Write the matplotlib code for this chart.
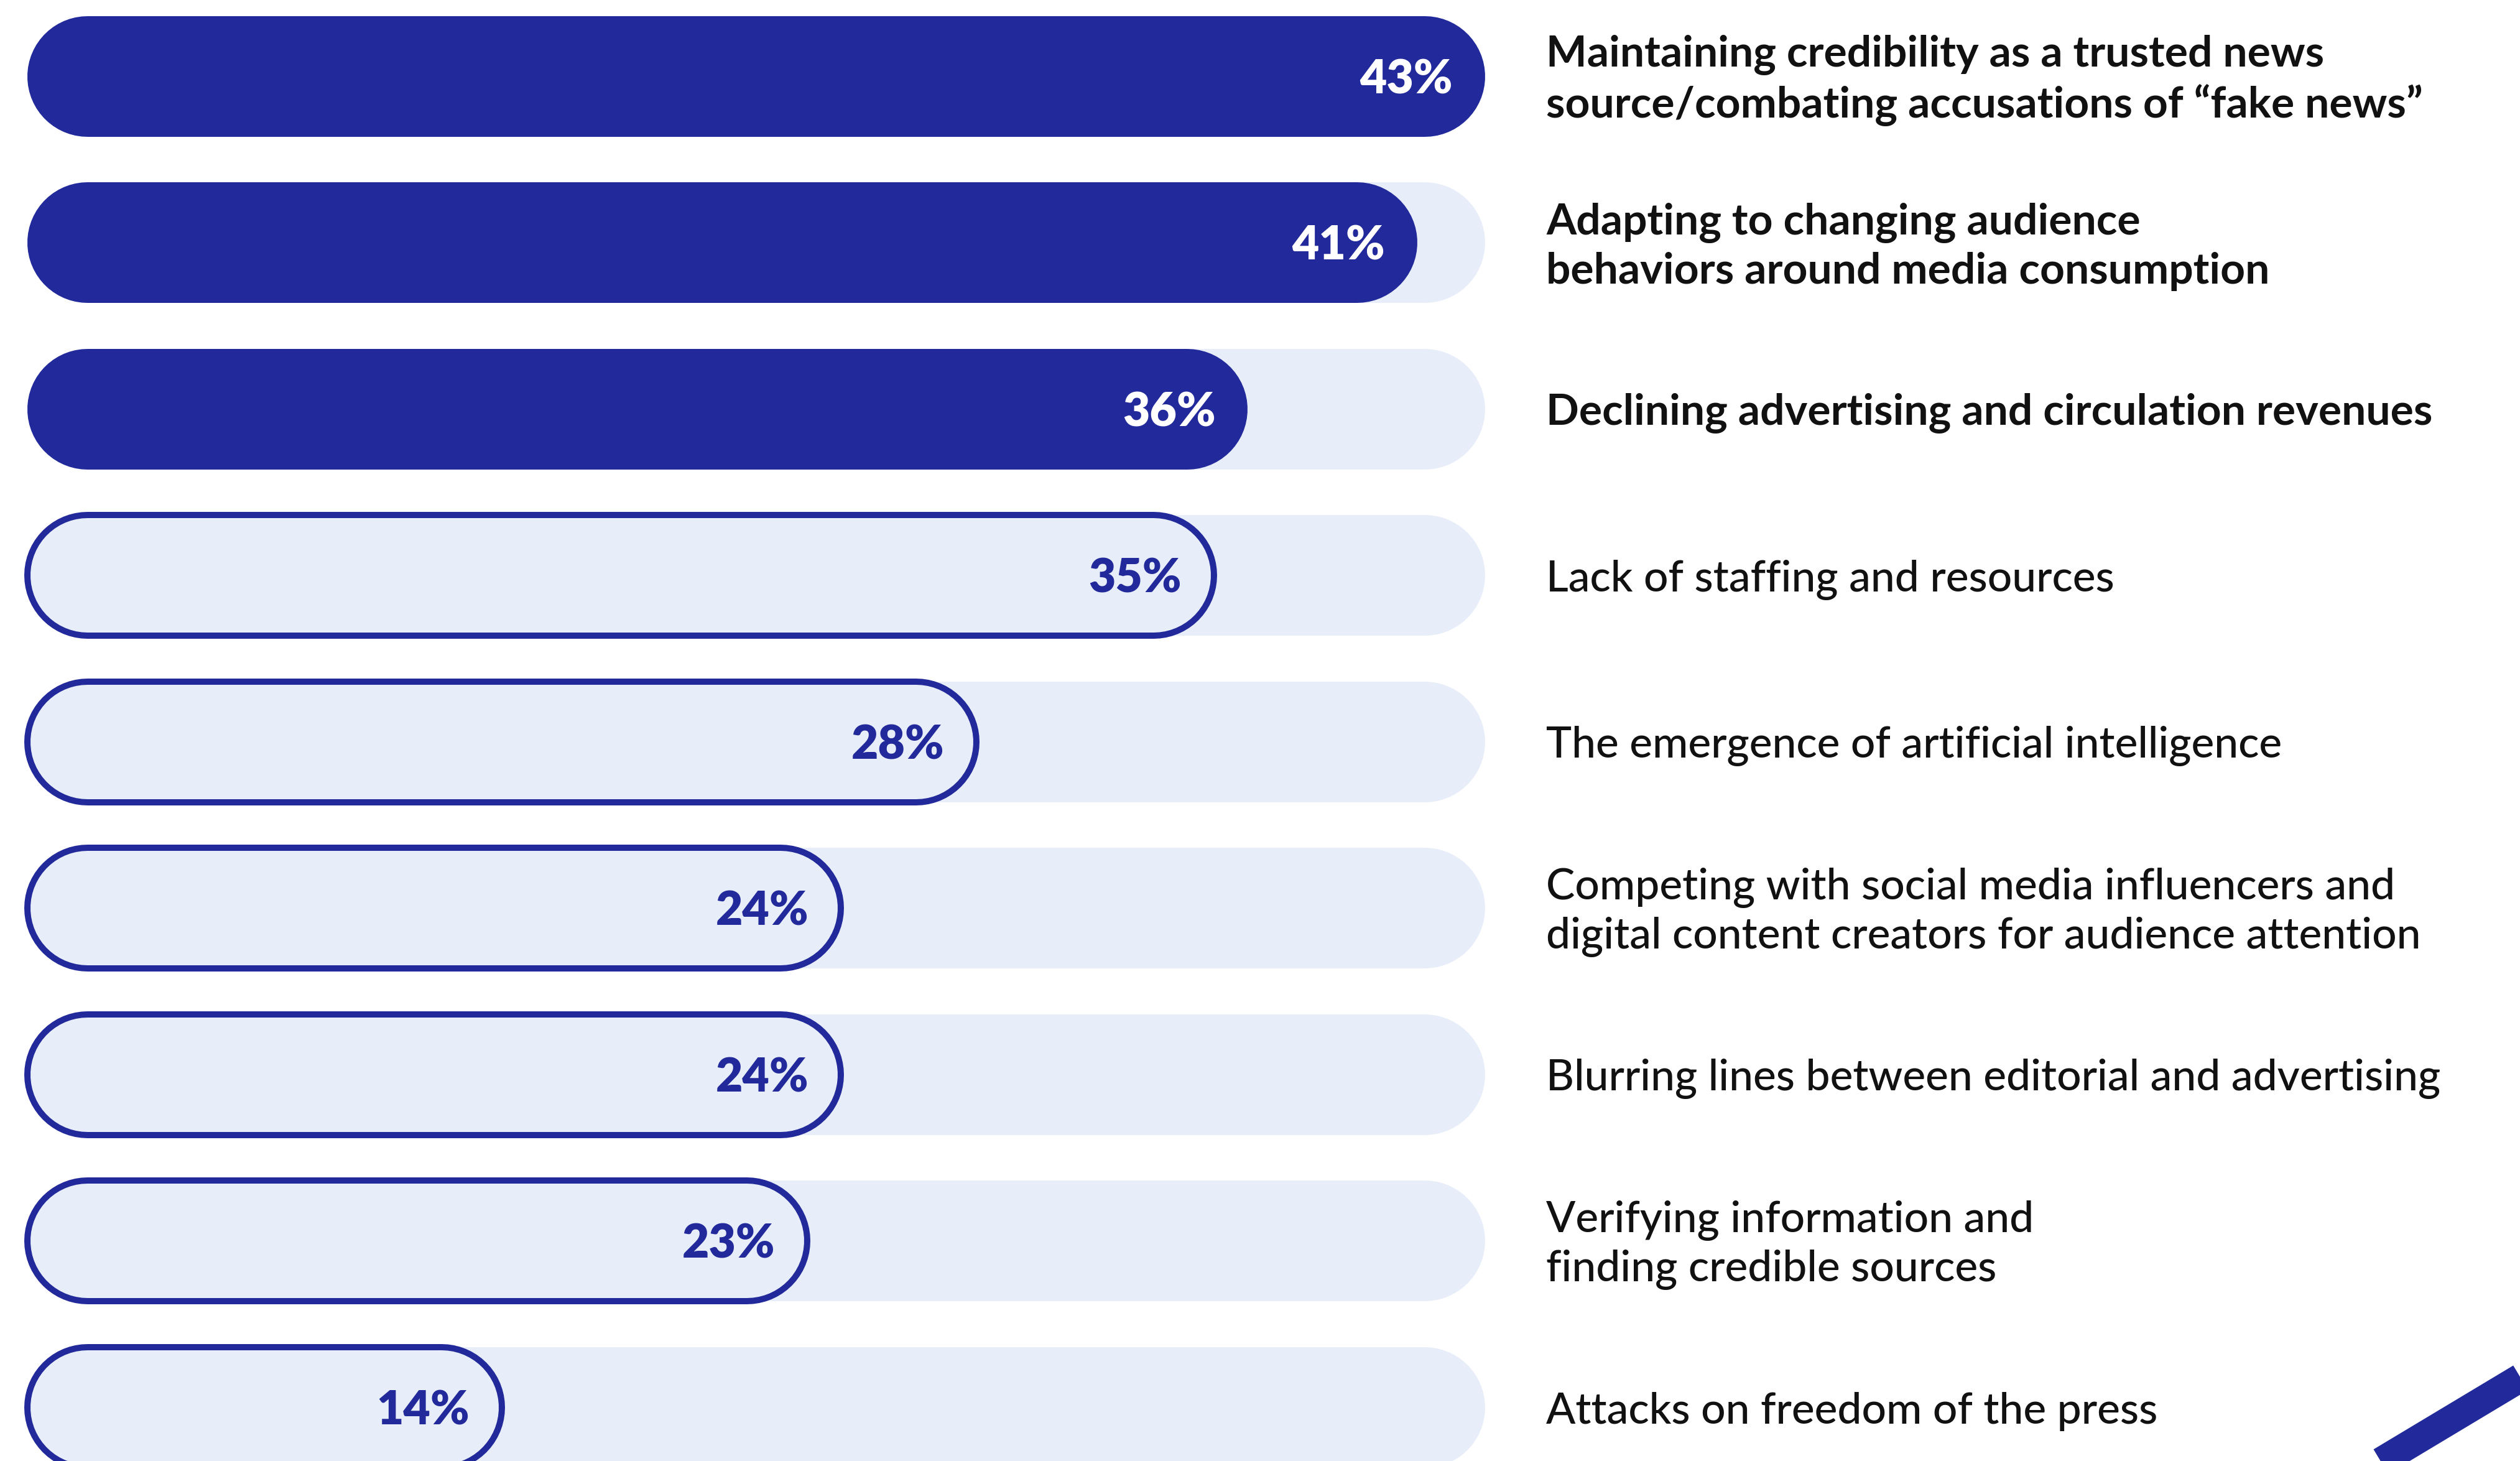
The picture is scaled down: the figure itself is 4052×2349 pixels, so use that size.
import matplotlib
matplotlib.use("Agg")
import matplotlib.pyplot as plt
from matplotlib.lines import Line2D

# ---- data ----
categories = [
    "Maintaining credibility as a trusted news\nsource/combating accusations of \u201cfake news\u201d",
    "Adapting to changing audience\nbehaviors around media consumption",
    "Declining advertising and circulation revenues",
    "Lack of staffing and resources",
    "The emergence of artificial intelligence",
    "Competing with social media influencers and\ndigital content creators for audience attention",
    "Blurring lines between editorial and advertising",
    "Verifying information and\nfinding credible sources",
    "Attacks on freedom of the press",
]
values = [43, 41, 36, 35, 28, 24, 24, 23, 14]
highlight = [True, True, True, False, False, False, False, False, False]
track_max = 43

# ---- style ----
DARK = "#21299B"
LIGHT = "#E8EEF9"
W, H, DPI = 4052, 2349, 100
LEFT_PX = 44
RIGHT_PX = 2388
ROW0_PX = 123
ROW_STEP_PX = 267.5
BAR_H_PX = 194
OUT_W_PX = 10

fig = plt.figure(figsize=(W / DPI, H / DPI), dpi=DPI)
ax = fig.add_axes([0, 0, 1, 1])
ax.axis("off")

pxu = (RIGHT_PX - LEFT_PX) / track_max  # pixels per x unit
ax.set_xlim(-LEFT_PX / pxu, (W - LEFT_PX) / pxu)
ax.set_ylim((H - ROW0_PX) / ROW_STEP_PX, -ROW0_PX / ROW_STEP_PX)

pt = 72 / DPI  # points per pixel


def pill(x0_px_off, x1_val, x1_px_off, y, h_px, color, z):
    """round-capped line spanning [0 + x0 offset, value + x1 offset] with height h_px"""
    r = h_px / 2 / pxu
    a = x0_px_off / pxu + r
    b = x1_val + x1_px_off / pxu - r
    if b < a:
        b = a
    ax.plot([a, b], [y, y], color=color, lw=h_px * pt, solid_capstyle="round", zorder=z)


for i, (lab, v, hl) in enumerate(zip(categories, values, highlight)):
    y = i
    # track
    pill(0, track_max, 0, y, BAR_H_PX, LIGHT, 1)
    if hl:
        pill(0, v, 0, y, BAR_H_PX, DARK, 2)
        tcol = "white"
    else:
        pill(-OUT_W_PX / 2, v, OUT_W_PX / 2, y, BAR_H_PX + OUT_W_PX, DARK, 2)
        pill(OUT_W_PX / 2, v, -OUT_W_PX / 2, y, BAR_H_PX - OUT_W_PX, LIGHT, 3)
        tcol = DARK
    ax.text(v - 52 / pxu, y + 0.02, f"{v}%", ha="right", va="center",
            color=tcol, fontsize=54, fontweight="heavy", family="Lato", zorder=5)
    ax.text((2486 - LEFT_PX) / pxu, y + 0.025, lab, ha="left", va="center",
            color="#111111", fontsize=50,
            fontweight="bold" if hl else "medium", family="Lato",
            linespacing=1.27, zorder=5)

# decorative band at bottom right
x1, y1 = 3680, 2439
x2, y2 = 4130, 2169
fig.add_artist(Line2D([x1 / W, x2 / W], [1 - y1 / H, 1 - y2 / H],
                      transform=fig.transFigure, color=DARK, lw=46 * pt,
                      solid_capstyle="butt"))

fig.savefig("out.png", dpi=DPI, facecolor="white")
